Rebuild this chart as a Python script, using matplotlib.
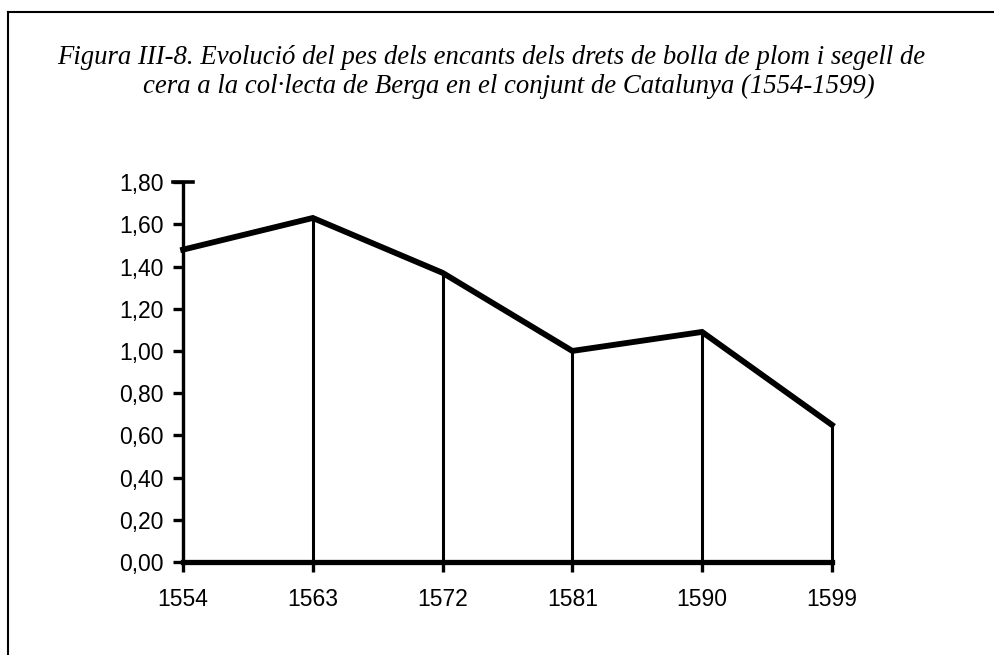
import matplotlib

matplotlib.use("Agg")
import matplotlib.pyplot as plt
from matplotlib.lines import Line2D

years = [1554, 1563, 1572, 1581, 1590, 1599]
share = [1.48, 1.63, 1.37, 1.00, 1.09, 0.65]
yticks = [0.0, 0.2, 0.4, 0.6, 0.8, 1.0, 1.2, 1.4, 1.6, 1.8]
title_1 = "Figura III-8. Evolució del pes dels encants dels drets de bolla de plom i segell de"
title_2 = "cera a la col·lecta de Berga en el conjunt de Catalunya (1554-1599)"

fig = plt.figure(figsize=(9.95, 6.55), dpi=100)
ax = fig.add_axes([0.184, 0.142, 0.652, 0.580])

ax.plot(years, share, color="black", lw=4.2, solid_joinstyle="miter", clip_on=False, zorder=3)
ax.vlines(years, 0, share, color="black", lw=2.2, clip_on=False)

ax.set_xlim(years[0], years[-1])
ax.set_ylim(0, 1.8)
ax.set_xticks(years)
ax.set_xticklabels([str(y) for y in years])
ax.set_yticks(yticks)
ax.set_yticklabels([f"{v:.2f}".replace(".", ",") for v in yticks])

for s in ("top", "right"):
    ax.spines[s].set_visible(False)
ax.spines["left"].set_linewidth(2.4)
ax.spines["bottom"].set_linewidth(3.8)
ax.tick_params(axis="y", direction="out", length=7, width=2.4, pad=7, labelsize=16.5)
ax.tick_params(axis="x", direction="out", length=7, width=2.4, pad=12, labelsize=16.5)
for lab in ax.get_xticklabels() + ax.get_yticklabels():
    lab.set_family("Liberation Sans")

# the top tick crosses the axis like a "T"
ax.plot([-0.016, 0.016], [1.0, 1.0], transform=ax.transAxes, color="black", lw=2.6, clip_on=False)

# two title lines, the second sits a little right of centre in the scan
fig.text(0.494, 1 - 57 / 655, title_1, ha="center", va="center", fontsize=19.3,
         style="italic", family="Liberation Serif")
fig.text(0.511, 1 - 86 / 655, title_2, ha="center", va="center", fontsize=19.3,
         style="italic", family="Liberation Serif")

# scanned frame: top and left edges only
fig.add_artist(Line2D([0.008, 1.0], [1 - 12 / 655, 1 - 12 / 655], transform=fig.transFigure,
                      color="black", lw=1.5))
fig.add_artist(Line2D([0.008, 0.008], [0.0, 1 - 12 / 655], transform=fig.transFigure,
                      color="black", lw=1.5))

fig.savefig("out.png", dpi=100)
